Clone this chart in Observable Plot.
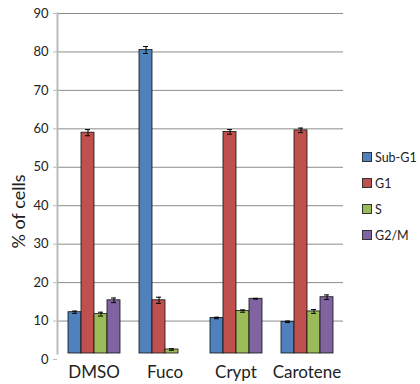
<!DOCTYPE html>
<html>
<head>
<meta charset="utf-8">
<script src="https://cdn.jsdelivr.net/npm/d3@7"></script>
<script src="https://cdn.jsdelivr.net/npm/@observablehq/plot@0.6"></script>
<style>
  html, body { margin: 0; padding: 0; background: #fff; }
  #chart { position: relative; width: 420px; height: 384px; font-family: Lato, "Open Sans", sans-serif; }
  #chart svg { display: block; position: absolute; left: 0; top: 0; }
  g[aria-label="y-axis label"] text { font-size: 18px; }
  g[aria-label="y-axis label"] { translate: 0 25px; }
  #legend { position: absolute; left: 362px; top: 144px; font-size: 12.5px; color: #222; }
  #legend .item { display: flex; align-items: center; height: 26px; }
  #legend .sw { width: 8px; height: 8px; border: 1px solid #333; margin-right: 3px; }
</style>
</head>
<body>
<div id="chart"></div>
<script>
// Treatments and cell-cycle phases
const groups = ["DMSO", "Fuco", "Crypt", "Carotene"];
const phases = ["Sub-G1", "G1", "S", "G2/M"];
const phaseColors = ["#4F81BD", "#C0504D", "#9BBB59", "#8064A2"];

// Percentage of cells per phase, one value per treatment (null = no bar)
const subG1 = [12.3, 80.5, 10.8, 9.8];
const g1 = [59.0, 15.4, 59.2, 59.6];
const sPhase = [11.8, 2.6, 12.6, 12.5];
const g2m = [15.4, null, 15.8, 16.2];

// Standard errors
const subG1Err = [0.3, 0.9, 0.2, 0.2];
const g1Err = [0.8, 0.8, 0.6, 0.6];
const sPhaseErr = [0.5, 0.2, 0.3, 0.5];
const g2mErr = [0.6, null, 0.1, 0.6];

const yTicks = [0, 10, 20, 30, 40, 50, 60, 70, 80, 90];

const series = [[subG1, subG1Err], [g1, g1Err], [sPhase, sPhaseErr], [g2m, g2mErr]];
const rows = [];
groups.forEach((group, i) => {
  series.forEach(([vals, errs], j) => {
    if (vals[i] != null) rows.push({group, phase: phases[j], value: vals[i], err: errs[i]});
  });
});

const frame = {
  width: 420,
  height: 384,
  marginLeft: 57,
  marginRight: 77,
  marginTop: 13,
  marginBottom: 25,
  style: {fontFamily: "Lato, 'Open Sans', sans-serif", color: "#222", background: "transparent"}
};

// Layer 1: continuous gridlines and the value axis
const grid = Plot.plot({
  ...frame,
  y: {domain: [0, 90]},
  marks: [
    Plot.ruleY(yTicks.filter(d => d > 0), {stroke: "#8c8c8c", strokeWidth: 1}),
    Plot.axisY({ticks: yTicks, tickSize: 4, tickPadding: 5, fontSize: 13, stroke: "#bbb",
      label: "% of cells", labelAnchor: "center", labelArrow: "none", labelOffset: 45}),
    Plot.frame({anchor: "left", stroke: "#bbb", strokeWidth: 2, insetBottom: 6})
  ]
});

// Layer 2: grouped bars with error bars, one facet per treatment
const bars = Plot.plot({
  ...frame,
  fx: {domain: groups, paddingInner: 0.26, paddingOuter: 0.13, label: null},
  x: {domain: phases, padding: 0, axis: null},
  y: {domain: [0, 90], axis: null},
  color: {domain: phases, range: phaseColors},
  marks: [
    Plot.axisFx({anchor: "bottom", tickSize: 0, tickPadding: 6, fontSize: 17, label: null}),
    Plot.barY(rows, {fx: "group", x: "phase", y: "value", fill: "phase", stroke: "#111", strokeWidth: 0.8, insetBottom: 6}),
    Plot.ruleX(rows, {fx: "group", x: "phase", y1: d => d.value - d.err, y2: d => d.value + d.err, stroke: "#000", strokeWidth: 1}),
    Plot.tickY(rows, {fx: "group", x: "phase", y: d => d.value - d.err, stroke: "#000", insetLeft: 4, insetRight: 4}),
    Plot.tickY(rows, {fx: "group", x: "phase", y: d => d.value + d.err, stroke: "#000", insetLeft: 4, insetRight: 4})
  ]
});

const root = document.getElementById("chart");
root.appendChild(grid);
root.appendChild(bars);

// Legend on the right
const legend = d3.select(root).append("div").attr("id", "legend");
const items = legend.selectAll(".item").data(phases).join("div").attr("class", "item");
items.append("div").attr("class", "sw").style("background", (d, i) => phaseColors[i]);
items.append("span").text(d => d);
</script>
</body>
</html>
